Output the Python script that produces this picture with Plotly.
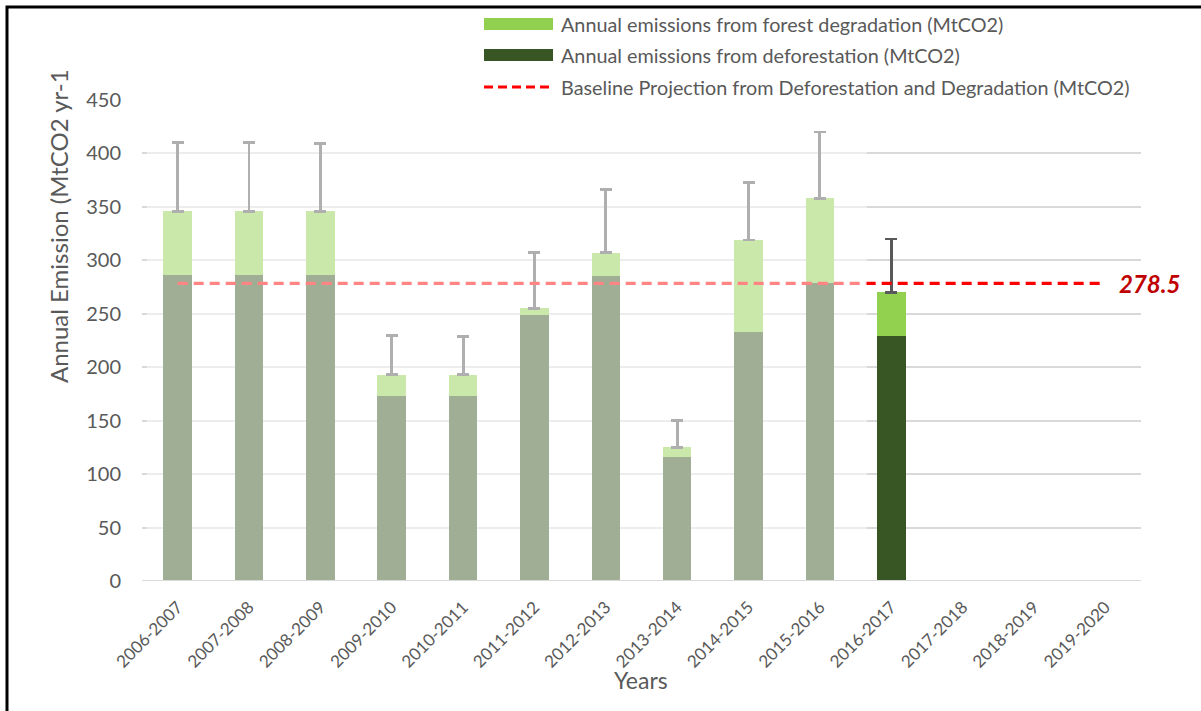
import plotly.graph_objects as go

categories = ["2006-2007", "2007-2008", "2008-2009", "2009-2010", "2010-2011",
              "2011-2012", "2012-2013", "2013-2014", "2014-2015", "2015-2016",
              "2016-2017", "2017-2018", "2018-2019", "2019-2020"]
deforestation = [286, 286, 286, 173, 173, 249, 285, 116, 233, 279, 229, None, None, None]
degradation = [60, 60, 60, 20, 20, 6, 22, 9, 86, 79, 41, None, None, None]
upper_bound = [410, 410, 409, 230, 229, 307, 366, 150, 373, 420, 320, None, None, None]
baseline = [278.5] * len(categories)
baseline_label = "278.5"

err_plus = [(u - d - g) if u is not None else None
            for u, d, g in zip(upper_bound, deforestation, degradation)]

W, H = 1201, 711
L, R, T, B = 142, 1141, 100, 581
FONT = "Lato"
GREY = "#595959"


def px(x):
    return (x - L) / (R - L)


def py(y):
    return (B - y) / (B - T)


fig = go.Figure()
fig.add_trace(go.Bar(x=categories, y=deforestation, marker_color="#375623",
                     marker_line_width=0, name="Annual emissions from deforestation (MtCO2)"))
fig.add_trace(go.Bar(x=categories, y=degradation, marker_color="#92D050",
                     marker_line_width=0, name="Annual emissions from forest degradation (MtCO2)",
                     error_y=dict(type="data", array=err_plus, arrayminus=[0] * len(err_plus),
                                  symmetric=False, color=GREY, thickness=2.8, width=6)))
fig.add_trace(go.Scatter(x=categories, y=baseline, mode="lines",
                         line=dict(color="#FF0000", width=3.2, dash="10px,6px"),
                         name="Baseline Projection from Deforestation and Degradation (MtCO2)"))

shapes = []
# faded overlay over historical part
shapes.append(dict(type="rect", xref="x", yref="y", x0=-0.43, x1=9.66, y0=0, y1=450,
                   fillcolor="white", opacity=0.52, line_width=0, layer="above"))
# zero line
shapes.append(dict(type="line", xref="paper", yref="y", x0=0, x1=1, y0=0, y1=0,
                   line=dict(color="#D9D9D9", width=2), layer="above"))
# legend background covering top gridline
shapes.append(dict(type="rect", xref="paper", yref="paper", x0=px(402), x1=px(1150),
                   y0=py(106), y1=py(94), fillcolor="white", line_width=0, layer="above"))
# border
shapes.append(dict(type="rect", xref="paper", yref="paper", x0=px(7), x1=px(1215),
                   y0=py(725), y1=py(7), line=dict(color="black", width=3),
                   fillcolor="rgba(0,0,0,0)", layer="above"))

# custom legend
leg_rows = [("Annual emissions from forest degradation (MtCO2)", "#92D050", 24, "bar"),
            ("Annual emissions from deforestation (MtCO2)", "#375623", 55, "bar"),
            ("Baseline Projection from Deforestation and Degradation (MtCO2)", "#FF0000", 87, "line")]
annotations = []
for text, col, yc, kind in leg_rows:
    if kind == "bar":
        shapes.append(dict(type="rect", xref="paper", yref="paper", x0=px(484), x1=px(553),
                           y0=py(yc + 6), y1=py(yc - 6), fillcolor=col, line_width=0))
    else:
        shapes.append(dict(type="line", xref="paper", yref="paper", x0=px(484), x1=px(553),
                           y0=py(yc), y1=py(yc), line=dict(color=col, width=3, dash="9px,5px")))
    annotations.append(dict(text=text, xref="paper", yref="paper", x=px(559), y=py(yc),
                            xanchor="left", yanchor="middle", showarrow=False,
                            font=dict(family=FONT, size=19.8, color=GREY)))

annotations.append(dict(text="<b><i>" + baseline_label + "</i></b>", xref="paper", yref="y",
                        x=px(1117), y=278.5, xanchor="left", yanchor="middle", showarrow=False,
                        font=dict(family=FONT, size=24, color="#C00000")))
annotations.append(dict(text="Annual Emission (MtCO2 yr-1", xref="paper", yref="paper",
                        x=px(58), y=py(226), textangle=-90, showarrow=False,
                        xanchor="center", yanchor="middle",
                        font=dict(family=FONT, size=24, color=GREY)))
annotations.append(dict(text="Years", xref="paper", yref="paper", x=px(641), y=py(680),
                        showarrow=False, xanchor="center", yanchor="middle",
                        font=dict(family=FONT, size=23, color=GREY)))

fig.update_layout(
    width=W, height=H,
    margin=dict(l=L, r=W - R, t=T, b=H - B, autoexpand=False),
    barmode="stack", bargap=0.6,
    plot_bgcolor="white", paper_bgcolor="white",
    showlegend=False,
    shapes=shapes, annotations=annotations,
    font=dict(family=FONT, color=GREY),
)
fig.update_yaxes(range=[0, 450], dtick=50, showgrid=True, gridcolor="#D9D9D9", gridwidth=2,
                 zeroline=False, showline=False, ticks="", ticklabelstandoff=20,
                 tickfont=dict(family=FONT, size=20, color=GREY))
fig.update_xaxes(type="category", categoryorder="array", categoryarray=categories,
                 tickangle=-45, showgrid=False, showline=False, ticks="", ticklabelstandoff=12,
                 tickfont=dict(family=FONT, size=17, color=GREY))

fig.write_html("out.html")
